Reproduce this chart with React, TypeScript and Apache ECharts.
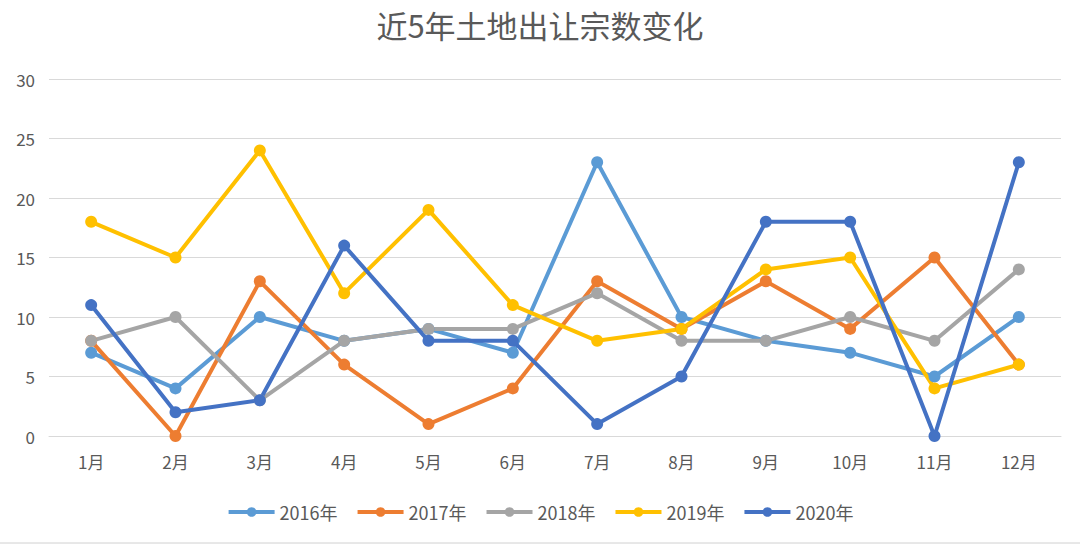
import React, { useEffect, useRef } from "react";
import * as echarts from "echarts";

const months = ["1月", "2月", "3月", "4月", "5月", "6月", "7月", "8月", "9月", "10月", "11月", "12月"];
const seriesNames = ["2016年", "2017年", "2018年", "2019年", "2020年"];
const data2016 = [7, 4, 10, 8, 9, 7, 23, 10, 8, 7, 5, 10];
const data2017 = [8, 0, 13, 6, 1, 4, 13, 9, 13, 9, 15, 6];
const data2018 = [8, 10, 3, 8, 9, 9, 12, 8, 8, 10, 8, 14];
const data2019 = [18, 15, 24, 12, 19, 11, 8, 9, 14, 15, 4, 6];
const data2020 = [11, 2, 3, 16, 8, 8, 1, 5, 18, 18, 0, 23];
const colors = ["#5B9BD5", "#ED7D31", "#A5A5A5", "#FFC000", "#4472C4"];

export default function App() {
  const ref = useRef<HTMLDivElement>(null);
  useEffect(() => {
    document.body.style.margin = "0";
    const chart = echarts.init(ref.current!, null, { renderer: "svg" });
    const all = [data2016, data2017, data2018, data2019, data2020];
    const font = "'Noto Sans CJK SC', 'Noto Sans', sans-serif";
    chart.setOption({
      animation: false,
      backgroundColor: "#ffffff",
      color: colors,
      title: {
        text: "近5年土地出让宗数变化",
        left: "center",
        top: 4,
        textStyle: { fontSize: 31, fontWeight: "normal", color: "#595959", fontFamily: font },
      },
      legend: {
        bottom: 20,
        left: "center",
        itemWidth: 46,
        itemHeight: 12,
        itemGap: 18,
        lineStyle: { width: 4 },
        textStyle: { fontSize: 18, color: "#595959", fontFamily: font },
        data: seriesNames,
      },
      grid: { left: 49, right: 19, top: 79, bottom: 110 },
      xAxis: {
        type: "category",
        data: months,
        boundaryGap: true,
        axisLine: { show: true, lineStyle: { color: "#d9d9d9", width: 1 } },
        axisTick: { show: false },
        axisLabel: { fontSize: 17, color: "#595959", margin: 17, fontFamily: font },
      },
      yAxis: {
        type: "value",
        min: 0,
        max: 30,
        interval: 5,
        axisLine: { show: false },
        axisTick: { show: false },
        splitLine: { lineStyle: { color: "#d9d9d9", width: 1 } },
        axisLabel: { fontSize: 17, color: "#595959", margin: 14, fontFamily: font },
      },
      series: all.map((d, i) => ({
        name: seriesNames[i],
        type: "line",
        data: d,
        symbol: "circle",
        symbolSize: 12,
        lineStyle: { width: 4, color: colors[i] },
        itemStyle: { color: colors[i] },
      })),
      graphic: [
        {
          type: "line",
          shape: { x1: 0, y1: 543, x2: 1080, y2: 543 },
          style: { stroke: "#d0d0d0", lineWidth: 1 },
        },
      ],
    });
    return () => chart.dispose();
  }, []);
  return <div ref={ref} style={{ width: 1080, height: 546 }} />;
}
